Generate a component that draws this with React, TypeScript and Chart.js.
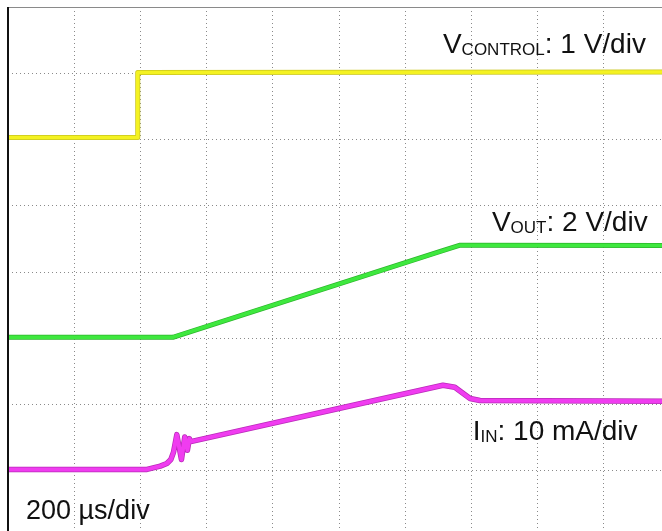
import React, { useEffect, useRef } from "react";
import { Chart, registerables } from "chart.js";

Chart.register(...registerables);

// Screen: 10 horizontal x 8 vertical divisions (200 µs/div)
const X_DIVS = 10;
const Y_DIVS = 8;

// V_CONTROL trace (divisions)
const vcontrolX = [0, 1.95, 1.96, 10];
const vcontrolY = [6.03, 6.03, 7.01, 7.02];

// V_OUT trace (divisions)
const voutX = [0, 2.49, 6.53, 6.83, 10];
const voutY = [3.015, 3.015, 4.31, 4.405, 4.4];

// I_IN trace (divisions)
const iinX = [0, 2.1, 2.3, 2.4, 2.46, 2.5, 2.55, 2.62, 2.67, 2.71, 2.74, 2.76, 4.86, 5.62, 6.57, 6.75, 6.98, 7.13, 10];
const iinY = [1.02, 1.02, 1.07, 1.11, 1.17, 1.28, 1.545, 1.17, 1.51, 1.31, 1.485, 1.44, 1.91, 2.08, 2.29, 2.26, 2.09, 2.06, 2.05];

// Channel labels: main letter, subscript, remainder
const labelMain = ["V", "V", "I"];
const labelSub = ["CONTROL", "OUT", "IN"];
const labelRest = [": 1 V/div", ": 2 V/div", ": 10 mA/div"];
const timebaseLabel = "200 µs/div";

// label anchors in division units
const labelAnchorX = [6.57, 7.31, 7.02];
const labelAnchorY = [7.3, 4.624, 1.459];
const timebaseAnchor = { x: 0.272, y: 0.276 };

const toPoints = (xs: number[], ys: number[]) => xs.map((x, i) => ({ x, y: ys[i] }));

const FONT = 'Arial, "Liberation Sans", Helvetica, sans-serif';

const decorPlugin = {
  id: "scopeDecor",
  afterDraw(chart: any) {
    const { ctx, chartArea, scales } = chart;
    const xs = scales.x;
    const ys = scales.y;
    ctx.save();
    // top frame line
    ctx.strokeStyle = "#8a8a8a";
    ctx.lineWidth = 1;
    ctx.beginPath();
    ctx.moveTo(chartArea.left, Math.round(chartArea.top) + 0.5);
    ctx.lineTo(chartArea.right, Math.round(chartArea.top) + 0.5);
    ctx.stroke();
    // left frame line
    ctx.strokeStyle = "#111";
    ctx.lineWidth = 2;
    ctx.beginPath();
    ctx.moveTo(Math.round(chartArea.left), chartArea.top);
    ctx.lineTo(Math.round(chartArea.left), chartArea.bottom);
    ctx.stroke();

    // labels
    ctx.fillStyle = "#111";
    ctx.textBaseline = "alphabetic";
    ctx.textAlign = "left";
    for (let i = 0; i < labelMain.length; i++) {
      let px = xs.getPixelForValue(labelAnchorX[i]);
      const py = ys.getPixelForValue(labelAnchorY[i]);
      ctx.font = `28px ${FONT}`;
      ctx.fillText(labelMain[i], px, py);
      px += ctx.measureText(labelMain[i]).width;
      ctx.font = `17px ${FONT}`;
      ctx.fillText(labelSub[i], px, py + 2);
      px += ctx.measureText(labelSub[i]).width;
      ctx.font = `28px ${FONT}`;
      ctx.fillText(labelRest[i], px, py);
    }
    ctx.font = `27px ${FONT}`;
    ctx.fillText(
      timebaseLabel,
      xs.getPixelForValue(timebaseAnchor.x),
      ys.getPixelForValue(timebaseAnchor.y)
    );
    ctx.restore();
  },
};

export default function App() {
  const canvasRef = useRef<HTMLCanvasElement | null>(null);

  useEffect(() => {
    if (!canvasRef.current) return;
    const trace = (xs: number[], ys: number[], color: string, width: number, order: number) => ({
      data: toPoints(xs, ys),
      borderColor: color,
      borderWidth: width,
      pointRadius: 0,
      tension: 0,
      fill: false,
      order,
      borderJoinStyle: "round" as const,
      borderCapStyle: "round" as const,
    });
    const chart = new Chart(canvasRef.current, {
      type: "line",
      data: {
        datasets: [
          trace(vcontrolX, vcontrolY, "#f4f222", 3.5, 0),
          trace(vcontrolX, vcontrolY, "#c9c520", 5, 1),
          trace(voutX, voutY, "#3ee83e", 3.5, 0),
          trace(voutX, voutY, "#2cb42c", 5, 1),
          trace(iinX, iinY, "#f03cf0", 4, 0),
          trace(iinX, iinY, "#b82ab8", 5.5, 1),
        ],
      },
      options: {
        animation: false,
        responsive: false,
        devicePixelRatio: 1,
        events: [],
        layout: { padding: { left: 8, top: 7, right: 10, bottom: 8 } },
        plugins: { legend: { display: false }, tooltip: { enabled: false } },
        scales: {
          x: {
            type: "linear",
            min: 0,
            max: X_DIVS,
            ticks: { display: false, stepSize: 1 },
            grid: { color: "#8a8a8a", lineWidth: 1, drawTicks: false },
            border: { display: false, dash: [1, 3] },
          },
          y: {
            type: "linear",
            min: 0,
            max: Y_DIVS,
            ticks: { display: false, stepSize: 1 },
            grid: { color: "#8a8a8a", lineWidth: 1, drawTicks: false },
            border: { display: false, dash: [1, 3] },
          },
        },
      },
      plugins: [decorPlugin],
    });
    return () => chart.destroy();
  }, []);

  return (
    <div
      style={{
        position: "fixed",
        left: 0,
        top: 0,
        width: 662,
        height: 531,
        overflow: "hidden",
        background: "#fff",
      }}
    >
      <canvas ref={canvasRef} width={680} height={545} style={{ display: "block" }} />
    </div>
  );
}
